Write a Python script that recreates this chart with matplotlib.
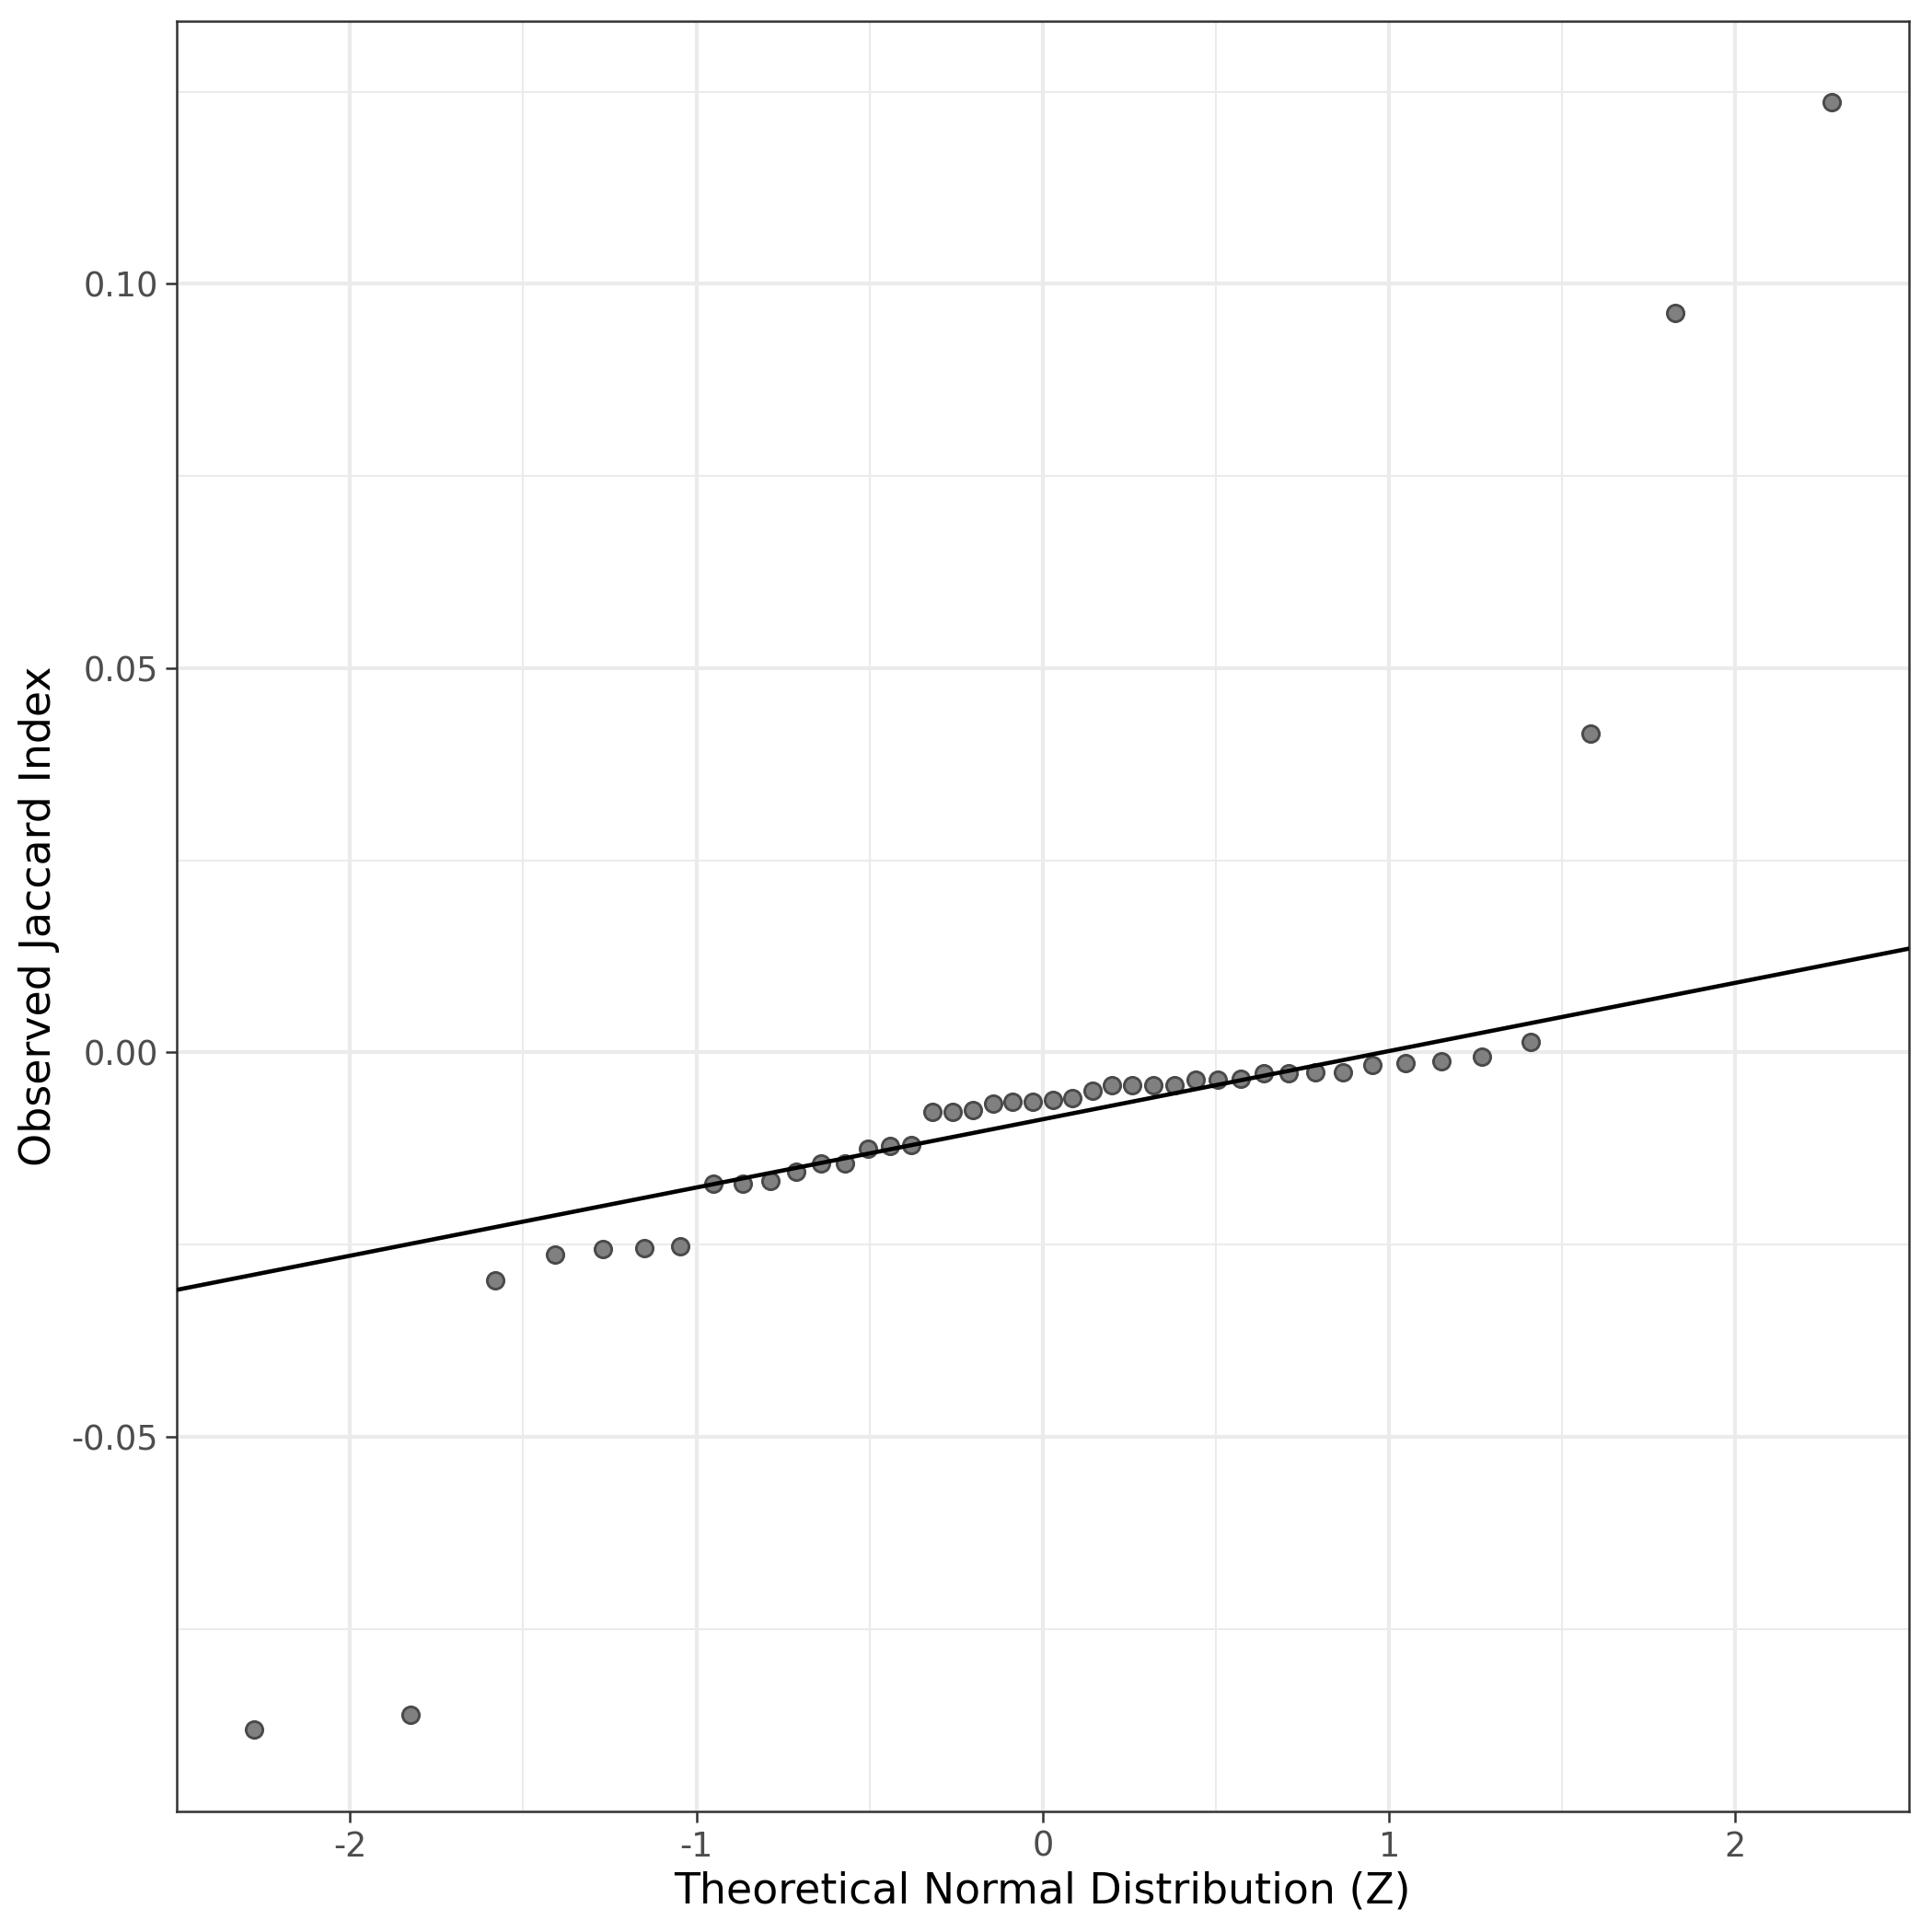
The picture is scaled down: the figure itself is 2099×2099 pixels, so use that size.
import numpy as np
import matplotlib
matplotlib.use("Agg")
import matplotlib.pyplot as plt
from matplotlib.ticker import FixedLocator, FuncFormatter

theo = [-2.278, -1.825, -1.582, -1.408, -1.269, -1.150, -1.047, -0.952,
        -0.866, -0.786, -0.711, -0.639, -0.571, -0.505, -0.441, -0.380,
        -0.319, -0.259, -0.201, -0.143, -0.086, -0.029,
        0.029, 0.086, 0.143, 0.201, 0.259, 0.319, 0.380, 0.441,
        0.505, 0.571, 0.639, 0.711, 0.786, 0.866, 0.952, 1.047,
        1.150, 1.269, 1.408, 1.582, 1.825, 2.278]
jaccard = [-0.0881, -0.0861, -0.0296, -0.0263, -0.0256, -0.0255, -0.0252,
           -0.0171, -0.0171, -0.0167, -0.0155, -0.0144, -0.0144, -0.0125,
           -0.0122, -0.0120, -0.0077, -0.0077, -0.0075, -0.0067, -0.0064,
           -0.0064, -0.0062, -0.0059, -0.0050, -0.0043, -0.0043, -0.0042,
           -0.0042, -0.0035, -0.0035, -0.0034, -0.0027, -0.0027, -0.0026,
           -0.0026, -0.0016, -0.0014, -0.0011, -0.0006, 0.0014, 0.0415,
           0.0962, 0.1236]

x_ticks = [-2, -1, 0, 1, 2]
y_ticks = [-0.05, 0.00, 0.05, 0.10]

# reference line through the quartiles, like qqline()
q1, q3 = np.quantile(jaccard, [0.25, 0.75])
slope = (q3 - q1) / (2 * 0.6744898)
intercept = (q1 + q3) / 2

fig = plt.figure(figsize=(2099 / 300, 2099 / 300), dpi=300)
ax = fig.add_axes([0.0915, 0.0626, 0.9879 - 0.0915, 0.9891 - 0.0626])

ax.set_xlim(-2.5, 2.5)
rng = max(jaccard) - min(jaccard)
ax.set_ylim(min(jaccard) - 0.05 * rng, max(jaccard) + 0.05 * rng)

ax.xaxis.set_major_locator(FixedLocator(x_ticks))
ax.xaxis.set_minor_locator(FixedLocator([-1.5, -0.5, 0.5, 1.5]))
ax.yaxis.set_major_locator(FixedLocator(y_ticks))
ax.yaxis.set_minor_locator(FixedLocator([-0.075, -0.025, 0.025, 0.075, 0.125]))
ax.xaxis.set_major_formatter(FuncFormatter(lambda v, p: f"{v:.0f}".replace("\u2212", "-")))
ax.yaxis.set_major_formatter(FuncFormatter(lambda v, p: f"{v:.2f}".replace("\u2212", "-")))

ax.grid(which="major", color="#EBEBEB", linewidth=1.0)
ax.grid(which="minor", color="#EBEBEB", linewidth=0.5)
ax.set_axisbelow(True)

ax.scatter(theo, jaccard, s=19, facecolor="#808080", edgecolor="#4a4a4a",
           linewidth=0.7, zorder=3)
xs = np.array([-2.5, 2.5])
ax.plot(xs, intercept + slope * xs, color="black", linewidth=1.1, zorder=4)

for sp in ax.spines.values():
    sp.set_color("#333333")
    sp.set_linewidth(0.6)
ax.tick_params(which="major", length=2.8, width=0.6, color="#333333",
               labelcolor="#4D4D4D", labelsize=8.8, pad=2)
ax.tick_params(which="minor", length=0)

ax.set_xlabel("Theoretical Normal Distribution (Z)", fontsize=11, labelpad=2)
ax.set_ylabel("Observed Jaccard Index", fontsize=11, labelpad=3)

fig.savefig("out.png", dpi=300)
